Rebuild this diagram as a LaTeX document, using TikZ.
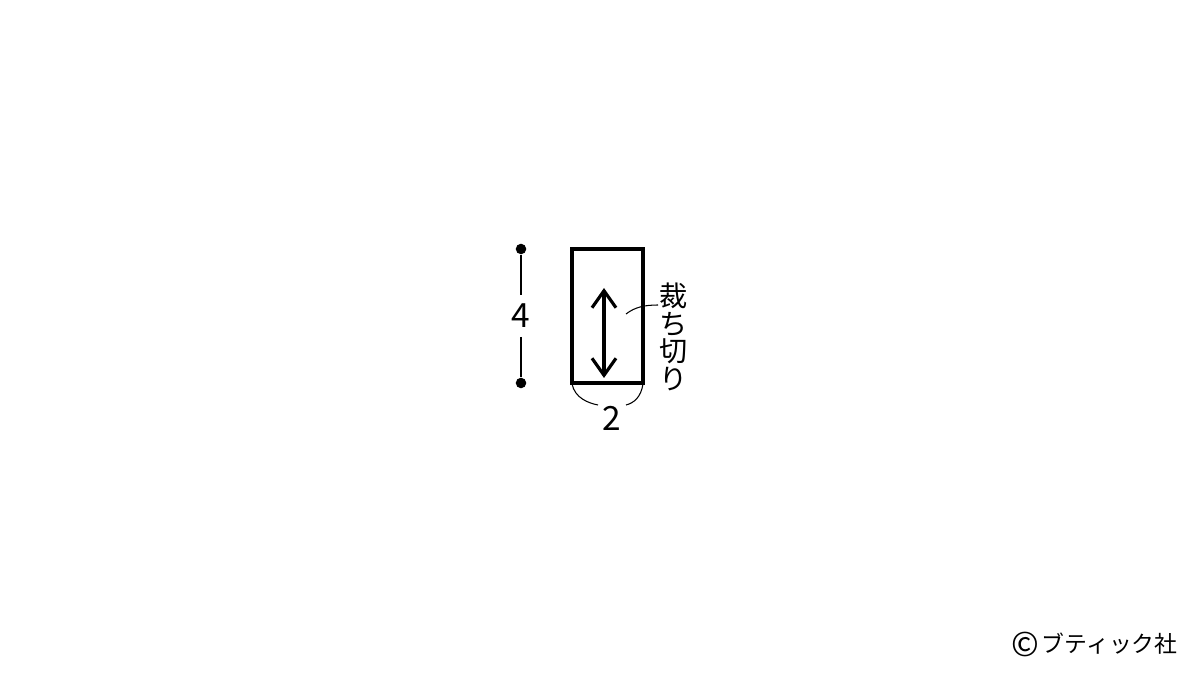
\documentclass[tikz,border=0pt]{standalone}
\usepackage{fontspec}
\setmainfont{Noto Sans CJK JP}
\usetikzlibrary{arrows.meta}

\begin{document}
\begin{tikzpicture}[x=0.02cm, y=-0.02cm,
    dot/.style={circle, fill, inner sep=0pt, minimum size=6pt},
    dim/.style={font=\fontsize{19}{19}\selectfont, inner sep=1pt}]
    \useasboundingbox (0,0) rectangle (1200,675);
    % piece
    \draw[line width=2.2pt] (572,249) rectangle (643,383);
    \coordinate (bl) at (572,384);
    \coordinate (br) at (643,384);
    \draw[line width=1.8pt, {Straight Barb[length=0.34cm, width=0.48cm]}-{Straight Barb[length=0.34cm, width=0.48cm]}] (604,288) -- (604,378);
    % height
    \node[dot] (top) at (521,249) {};
    \node[dot] (bot) at (521,383) {};
    \node[dim, minimum height=0.82cm] (four) at (521,316) {4};
    \draw[line width=0.8pt] (top) -- (four.north);
    \draw[line width=0.8pt] (four.south) -- (bot);
    % width
    \node[dim] (two) at (612,418) {2};
    \draw[line width=0.6pt] (bl) .. controls (575,398) and (588,403) .. (598,405);
    \draw[line width=0.6pt] (br) .. controls (641,397) and (634,403) .. (626,405);
    % label
    \node[font=\fontsize{16}{15.6}\selectfont, align=center, inner sep=0pt] (cut) at (674,337) {裁\\ち\\切\\り};
    \coordinate (lead) at (626,314);
    \draw[line width=0.6pt] (lead) .. controls (635,307) and (645,305) .. (658,305);
    \node[font=\fontsize{13}{13}\selectfont, anchor=east, inner sep=0pt] (copy) at (1178,644) {ブティック社};
    \node[font=\fontsize{19}{19}\selectfont, anchor=east, inner sep=0pt] (copysign) at ([xshift=-1pt]copy.west) {©};
\end{tikzpicture}
\end{document}
